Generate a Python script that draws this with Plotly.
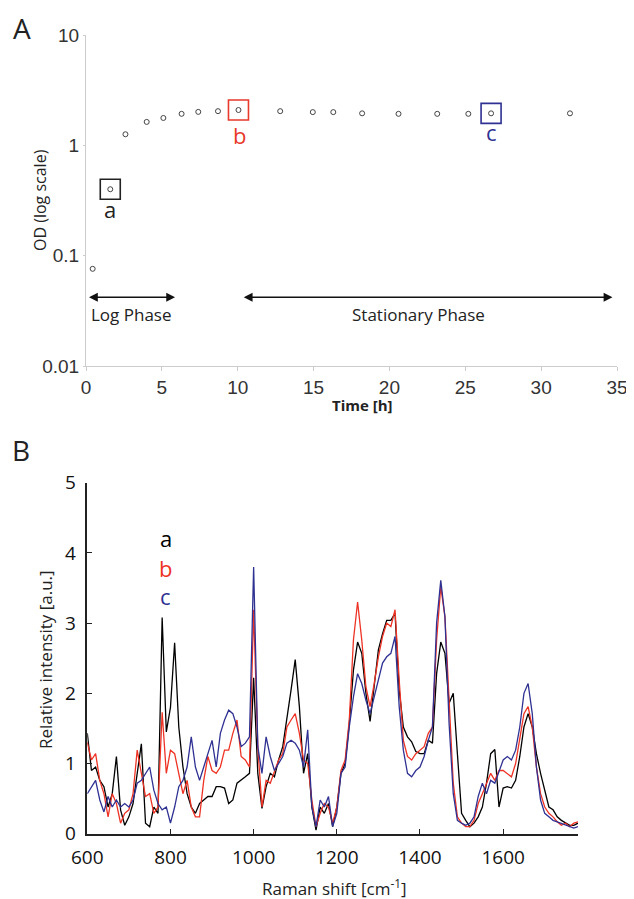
import numpy as np
import plotly.graph_objects as go

# ---------------- Panel A data ----------------
time_h = [0.44, 2.6, 4.0, 5.1, 6.3, 7.4, 8.7, 10.05, 12.8, 14.95, 16.3, 18.2, 20.6, 23.15, 25.2, 26.7, 31.9]
od = [0.076, 1.26, 1.63, 1.77, 1.93, 2.01, 2.04, 2.09, 2.04, 2.0, 2.0, 1.95, 1.93, 1.93, 1.93, 1.95, 1.95]
a_time, a_od = 1.6, 0.40
sample_names = ["a", "b", "c"]
sample_times = [1.6, 10.05, 26.7]
sample_od = [0.40, 2.09, 1.95]
sample_colors = ["#222222", "#e8392b", "#2e3192"]
log_phase = [0.0, 5.87]
stat_phase = [10.2, 34.7]
phase_od = 0.042

# ---------------- Panel B data ----------------
raman = list(range(600, 1781, 10))
spec_a = [1.43, 0.9, 0.95, 0.76, 0.67, 0.38, 0.57, 1.1, 0.34, 0.12,
          0.24, 0.43, 0.86, 1.28, 0.15, 0.1, 0.38, 0.29, 3.08, 1.45,
          1.8, 2.72, 1.52, 0.95, 0.57, 0.38, 0.29, 0.43, 0.48, 0.53,
          0.53, 0.67, 0.67, 0.65, 0.43, 0.48, 0.72, 0.76, 0.81, 0.86,
          2.22, 0.86, 0.36, 0.67, 0.86, 0.81, 1.05, 1.24, 1.62, 2.05,
          2.48, 1.81, 0.86, 1.14, 0.38, 0.05, 0.38, 0.29, 0.43, 0.1,
          0.38, 0.86, 1.0, 1.57, 2.33, 2.73, 2.57, 2.0, 1.6, 2.14,
          2.62, 2.85, 3.04, 3.04, 3.14, 2.05, 1.52, 1.38, 1.31, 1.17,
          1.14, 1.14, 1.33, 1.29, 2.28, 2.73, 2.57, 1.86, 2.0, 1.14,
          0.29, 0.19, 0.1, 0.15, 0.24, 0.38, 0.72, 1.14, 1.2, 0.38,
          0.65, 0.67, 0.65, 0.76, 1.1, 1.52, 1.71, 1.52, 1.14, 0.86,
          0.62, 0.38, 0.34, 0.24, 0.19, 0.15, 0.12, 0.12, 0.15]
spec_b = [1.3, 1.05, 1.14, 0.76, 0.57, 0.24, 0.57, 0.43, 0.15, 0.29,
          0.34, 0.57, 1.19, 0.86, 0.53, 0.57, 0.29, 0.38, 1.73, 0.86,
          1.19, 1.14, 0.86, 0.57, 0.76, 0.38, 0.24, 0.24, 0.76, 1.1,
          0.9, 0.86, 0.95, 1.19, 1.19, 1.43, 1.62, 1.1, 1.05, 0.95,
          3.19, 1.24, 0.38, 0.76, 0.72, 0.9, 1.05, 1.14, 1.52, 1.62,
          1.71, 1.43, 1.05, 1.0, 0.48, 0.1, 0.29, 0.43, 0.38, 0.15,
          0.38, 0.9, 1.05, 1.62, 2.76, 3.3, 2.76, 2.09, 1.81, 2.14,
          2.52, 2.81, 3.0, 2.95, 3.19, 2.19, 1.33, 1.1, 1.05, 1.14,
          1.19, 1.24, 1.43, 1.52, 2.76, 3.52, 3.09, 1.81, 0.72, 0.24,
          0.15, 0.1, 0.1, 0.19, 0.43, 0.57, 0.72, 0.86, 0.76, 0.9,
          0.9, 0.86, 0.81, 1.0, 1.33, 1.71, 1.81, 1.52, 0.95, 0.57,
          0.38, 0.29, 0.24, 0.17, 0.12, 0.15, 0.1, 0.15, 0.17]
spec_c = [0.57, 0.67, 0.76, 0.48, 0.31, 0.53, 0.38, 0.48, 0.38, 0.43,
          0.38, 0.48, 0.72, 0.76, 0.86, 0.95, 0.62, 0.43, 0.34, 0.38,
          0.15, 0.38, 0.67, 0.76, 0.95, 1.38, 0.95, 0.76, 0.95, 1.14,
          1.33, 0.95, 1.43, 1.62, 1.76, 1.71, 1.52, 1.24, 1.29, 1.38,
          3.8, 1.24, 0.86, 1.38, 1.1, 0.9, 1.0, 1.1, 1.29, 1.33,
          1.29, 1.19, 0.95, 1.48, 0.38, 0.1, 0.48, 0.38, 0.53, 0.1,
          0.29, 0.86, 0.95, 1.52, 1.95, 2.28, 2.14, 1.9, 1.71, 1.95,
          2.19, 2.43, 2.52, 2.57, 2.81, 1.81, 1.19, 0.86, 0.81, 0.9,
          0.95, 1.1, 1.33, 1.52, 3.0, 3.61, 3.09, 1.57, 0.57, 0.19,
          0.15, 0.12, 0.15, 0.24, 0.53, 0.72, 0.57, 0.76, 0.72, 0.9,
          1.05, 1.1, 1.05, 1.19, 1.52, 2.0, 2.14, 1.71, 0.95, 0.48,
          0.29, 0.24, 0.19, 0.17, 0.15, 0.12, 0.1, 0.08, 0.1]
spec_colors = ["#000000", "#ee3224", "#2e3192"]

# page body margin offset (default 8 px) -> figure sized to fill the rest
OFF = 8
W, H = 634 - OFF, 899 - OFF
def px_x(p): return (p - OFF) / W
def px_y(p): return 1 - (p - OFF) / H

fig = go.Figure()

circle = dict(symbol="circle-open", size=5, color="#444444", line=dict(width=1, color="#444444"))
fig.add_trace(go.Scatter(x=time_h, y=od, mode="markers", xaxis="x", yaxis="y",
                         marker=circle, showlegend=False, hoverinfo="x+y"))
for n, t, o, c in zip(sample_names, sample_times, sample_od, sample_colors):
    fig.add_trace(go.Scatter(x=[t], y=[o], mode="markers", xaxis="x", yaxis="y",
                             marker=dict(symbol="square-open", size=20, color=c,
                                         line=dict(width=1.6, color=c)),
                             showlegend=False, hoverinfo="skip"))
fig.add_trace(go.Scatter(x=[a_time], y=[a_od], mode="markers", xaxis="x", yaxis="y",
                         marker=circle, showlegend=False, hoverinfo="x+y"))

for s, c in zip([spec_a, spec_b, spec_c], spec_colors):
    fig.add_trace(go.Scatter(x=raman, y=s, mode="lines", xaxis="x2", yaxis="y2",
                             line=dict(color=c, width=1.3), showlegend=False))

C = dict(xanchor="center", yanchor="middle", showarrow=False)
ann = []
lp = np.log10(phase_od)
for rng in (log_phase, stat_phase):
    ann.append(dict(x=rng[1], y=lp, ax=rng[0], ay=lp, xref="x", yref="y",
                    axref="x", ayref="y", showarrow=True, arrowhead=2,
                    arrowside="end+start", arrowsize=1.1, arrowwidth=1.6,
                    arrowcolor="#111111", text=" "))
ann.append(dict(x=2.97, y=np.log10(0.0295), xref="x", yref="y", text="Log Phase",
                font=dict(size=17, color="#222222", family="Open Sans"), **C))
ann.append(dict(x=21.9, y=np.log10(0.0295), xref="x", yref="y", text="Stationary Phase",
                font=dict(size=17, color="#222222", family="Open Sans"), **C))
lab_pos = [(1.58, 0.265), (10.1, 1.25), (26.7, 1.31)]
for n, (t, o), c in zip(sample_names, lab_pos, sample_colors):
    ann.append(dict(x=t, y=np.log10(o), xref="x", yref="y", text=n,
                    font=dict(size=22, color=c, family="Open Sans"), **C))
for n, v, c in zip(sample_names, [4.21, 3.79, 3.39], spec_colors):
    ann.append(dict(x=789, y=v, xref="x2", yref="y2", text=n,
                    font=dict(size=22, color=c, family="Open Sans"), **C))
ann.append(dict(x=px_x(22), y=px_y(28), xref="paper", yref="paper", text="A",
                font=dict(size=28, color="#222222", family="Open Sans"), **C))
ann.append(dict(x=px_x(21), y=px_y(450), xref="paper", yref="paper", text="B",
                font=dict(size=28, color="#222222", family="Open Sans"), **C))
ann.append(dict(x=px_x(362), y=px_y(405), xref="paper", yref="paper", text="<b>Time [h]</b>",
                font=dict(size=15, color="#222222", family="Open Sans"), **C))
ann.append(dict(x=px_x(40), y=px_y(200), xref="paper", yref="paper", text="OD (log scale)",
                textangle=-90, font=dict(size=16, color="#222222", family="Open Sans"), **C))
ann.append(dict(x=px_x(45), y=px_y(660), xref="paper", yref="paper", text="Relative intensity [a.u.]",
                textangle=-90, font=dict(size=17, color="#222222", family="Open Sans"), **C))
ann.append(dict(x=px_x(334), y=px_y(887), xref="paper", yref="paper",
                text="Raman shift [cm<sup>-1</sup>]",
                font=dict(size=17, color="#222222", family="Open Sans"), **C))

fig.update_layout(
    width=W, height=H, margin=dict(l=0, r=0, t=0, b=0, autoexpand=False),
    paper_bgcolor="white", plot_bgcolor="white",
    annotations=ann,
    xaxis=dict(domain=[px_x(86), px_x(617)], range=[0, 35], anchor="y", automargin=False,
               tickvals=[0, 5, 10, 15, 20, 25, 30, 35], showgrid=False, zeroline=False,
               showline=True, linecolor="#cccccc", linewidth=1,
               ticks="outside", ticklen=4, tickcolor="#cccccc",
               tickfont=dict(size=19, color="#333333", family="Liberation Sans")),
    yaxis=dict(domain=[px_y(366), px_y(35)], type="log", range=[-2, 1], anchor="x", automargin=False,
               tickvals=[0.01, 0.1, 1, 10], ticktext=["0.01", "0.1", "1", "10"],
               showgrid=False, zeroline=False, showline=True, linecolor="#cccccc",
               linewidth=1, ticks="outside", ticklen=2, tickcolor="#cccccc",
               tickfont=dict(size=19, color="#333333", family="Liberation Sans")),
    xaxis2=dict(domain=[px_x(87.3), px_x(578)], range=[600, 1780], anchor="y2", automargin=False,
                tickvals=[600, 800, 1000, 1200, 1400, 1600], showgrid=False, zeroline=False,
                showline=True, linecolor="#222222", linewidth=1.5,
                ticks="inside", ticklen=5, tickcolor="#222222", ticklabelstandoff=6,
                tickfont=dict(size=19, color="#111111", family="Open Sans")),
    yaxis2=dict(domain=[px_y(833.7), px_y(482.7)], range=[0, 5], anchor="x2", automargin=False,
                tickvals=[0, 1, 2, 3, 4, 5], showgrid=False, zeroline=False,
                showline=True, linecolor="#222222", linewidth=1.5,
                ticks="inside", ticklen=5, tickcolor="#222222", ticklabelstandoff=6,
                tickfont=dict(size=19, color="#111111", family="Open Sans")),
)

fig.write_html("out.html")
